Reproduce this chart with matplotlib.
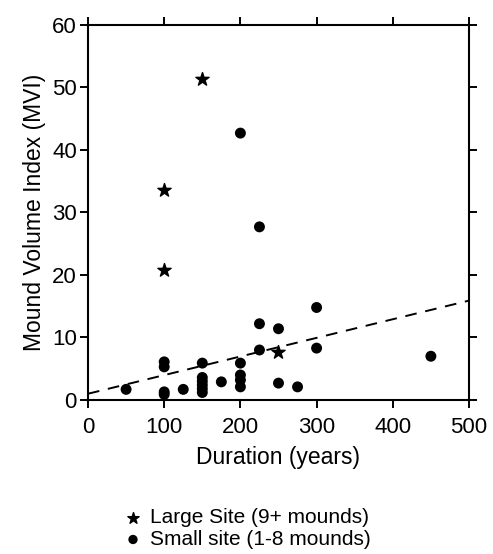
import numpy as np
import matplotlib.pyplot as plt

# large sites (9+ mounds)
large_dur = [150, 100, 100, 250]
large_mvi = [51.4, 33.6, 20.8, 7.7]

# small sites (1-8 mounds)
small_dur = [50, 100, 100, 100, 100, 125,
             150, 150, 150, 150, 150, 150,
             175, 200, 200, 200, 200, 200,
             225, 225, 225, 250, 250, 275,
             300, 300, 450]
small_mvi = [1.7, 6.1, 5.3, 1.3, 0.9, 1.7,
             5.9, 3.6, 3.0, 2.4, 1.8, 1.2,
             2.9, 42.7, 5.9, 4.0, 3.2, 2.1,
             27.7, 12.2, 8.0, 11.4, 2.7, 2.1,
             14.8, 8.3, 7.0]

# regression line end points
fit_x = [0, 500]
fit_y = [1.0, 15.9]

plt.rcParams['font.family'] = ['Liberation Sans', 'DejaVu Sans']

fig = plt.figure(figsize=(4.93, 5.54), dpi=100)
ax = fig.add_axes([0.1785, 0.278, 0.7728, 0.6769])

ax.scatter(large_dur, large_mvi, marker='*', s=100, color='black', zorder=3,
           label='Large Site (9+ mounds)')
ax.scatter(small_dur, small_mvi, marker='o', s=62, color='black', zorder=3,
           edgecolors='none', label='Small site (1-8 mounds)')
ax.plot(fit_x, fit_y, color='black', lw=1.4, dashes=(6, 4.5), zorder=2)

ax.set_xlim(0, 500)
ax.set_ylim(0, 60)
ax.set_xticks([0, 100, 200, 300, 400, 500])
ax.set_yticks([0, 10, 20, 30, 40, 50, 60])
ax.tick_params(direction='out', length=6, width=1.4, labelsize=16,
               top=True, right=True, pad=2)
ax.tick_params(axis='x', pad=6)
for s in ax.spines.values():
    s.set_linewidth(1.5)

ax.set_xlabel('Duration (years)', fontsize=16.5, labelpad=6)
ax.set_ylabel('Mound Volume Index (MVI)', fontsize=16.5, labelpad=4)

fig.legend(loc='upper center', bbox_to_anchor=(0.5, 0.101),
           frameon=False, fontsize=15, handletextpad=0.3, markerscale=0.85,
           labelspacing=0.12, handlelength=1.0, borderpad=0)

fig.savefig('out.png', dpi=100)
